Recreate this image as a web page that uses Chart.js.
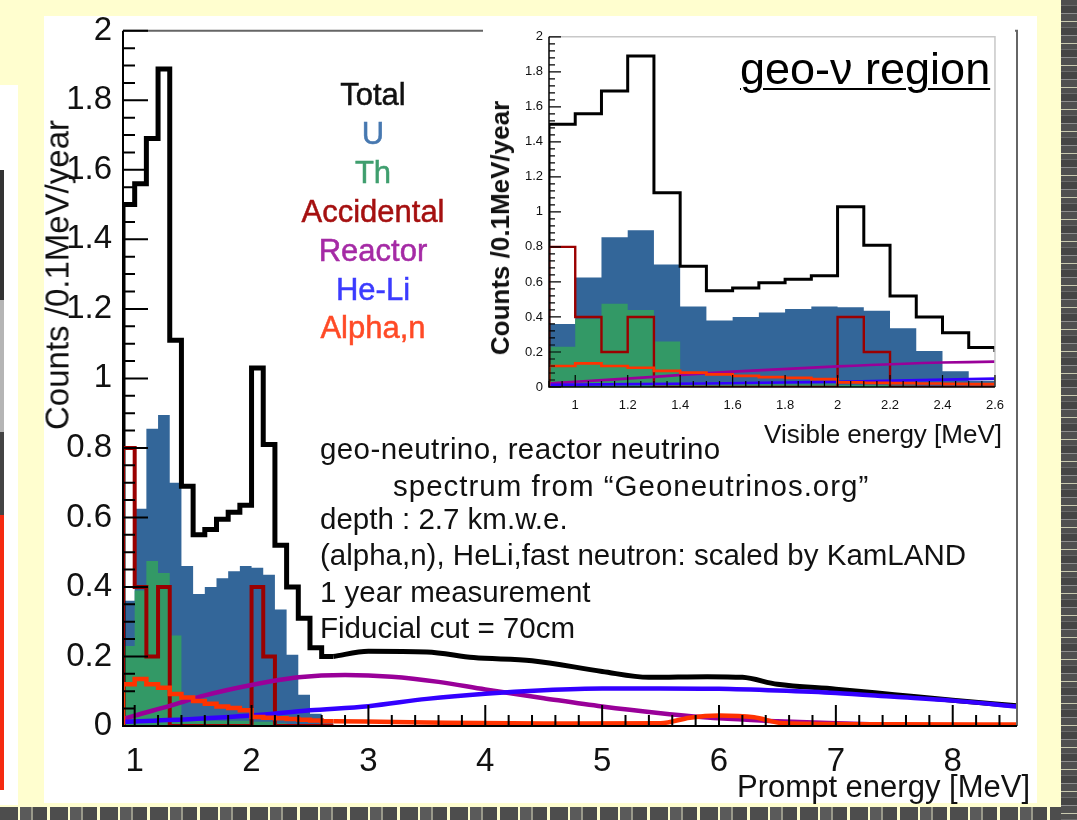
<!DOCTYPE html>
<html>
<head>
<meta charset="utf-8">
<script src="https://cdn.jsdelivr.net/npm/chart.js@4.4.0/dist/chart.umd.min.js"></script>
<style>
  html, body { margin: 0; padding: 0; }
  body { width: 1077px; height: 820px; position: relative; overflow: hidden; background: #fffecf;
         font-family: "Liberation Sans", Arial, Helvetica, sans-serif; }
  .abs { position: absolute; }
  #paper { left: 44px; top: 16px; width: 993px; height: 787px; background: #fff; }
  #side { left: 0; top: 85px; width: 18px; height: 720px; background: #fff; }
  #sidebar { left: 0; top: 170px; width: 4px; height: 620px;
             background: linear-gradient(#333 0 130px, #b5b5b5 130px 262px, #444 262px 345px, #f52a10 345px); }
  #rightEdge { left: 1061px; top: 0; width: 16px; height: 820px;
               background: repeating-linear-gradient(180deg, #4f4f4f 0 5px, #6a6a6a 5px 6px, #454545 6px 13px, #8d8d8d 13px 14px, #505050 14px 21px, #c9c9b0 21px 22px); }
  #bottomEdge { left: 0; top: 807px; width: 1061px; height: 13px;
                background: repeating-linear-gradient(90deg, #4d4d4d 0 18px, #fffecf 18px 20px, #5a5a5a 20px 31px, #9a9a8a 31px 33px, #4a4a4a 33px 47px, #fffecf 47px 50px); }
  #main { left: 0; top: 0; }
  #inset { left: 483px; top: 23px; background: #fff; }
  .txt { position: absolute; white-space: nowrap; line-height: 1; }
  .leg { font-size: 31px; transform: translateX(-50%); left: 373px; -webkit-text-stroke: 0.5px currentColor; }
  .note { font-size: 29.5px; color: #111; }
</style>
</head>
<body>
<div id="paper" class="abs"></div>
<div id="side" class="abs"></div>
<div id="sidebar" class="abs"></div>
<div id="rightEdge" class="abs"></div>
<div id="bottomEdge" class="abs"></div>
<canvas id="main" class="abs" width="1077" height="820"></canvas>
<canvas id="inset" class="abs" width="532" height="427"></canvas>

<div class="txt leg" style="top:79px;color:#111">Total</div>
<div class="txt leg" style="top:118px;color:#4778b0">U</div>
<div class="txt leg" style="top:157px;color:#3f9e6e">Th</div>
<div class="txt leg" style="top:196px;color:#a51010">Accidental</div>
<div class="txt leg" style="top:235px;color:#a52aa5">Reactor</div>
<div class="txt leg" style="top:274px;color:#3b3bff">He-Li</div>
<div class="txt leg" style="top:312px;color:#ff4a26">Alpha,n</div>

<div class="txt note" style="left:320px;top:434px;letter-spacing:0.4px">geo-neutrino, reactor neutrino</div>
<div class="txt note" style="left:393px;top:471px;letter-spacing:1px">spectrum from “Geoneutrinos.org”</div>
<div class="txt note" style="left:320px;top:504px">depth : 2.7 km.w.e.</div>
<div class="txt note" style="left:320px;top:540px">(alpha,n), HeLi,fast neutron: scaled by KamLAND</div>
<div class="txt note" style="left:320px;top:577px">1 year measurement</div>
<div class="txt note" style="left:320px;top:613px">Fiducial cut = 70cm</div>

<div class="txt" style="right:47px;top:771px;font-size:31px;color:#111">Prompt energy [MeV]</div>
<div class="txt" style="left:57px;top:275px;font-size:33px;color:#111;transform:translate(-50%,-50%) rotate(-90deg)">Counts /0.1MeV/year</div>

<div class="txt" style="left:740px;top:46px;font-size:45px;color:#000;text-decoration:underline;text-decoration-thickness:2px;text-underline-offset:4px">geo-ν region</div>
<div class="txt" style="right:75px;top:421px;font-size:26px;color:#111">Visible energy [MeV]</div>
<div class="txt" style="left:500px;top:228px;font-size:26px;font-weight:bold;color:#111;transform:translate(-50%,-50%) rotate(-90deg)">Counts /0.1MeV/year</div>

<script>
const FONT = '"Liberation Sans", Arial, Helvetica, sans-serif';
const BIN_LO = 0.9, BIN_W = 0.1;

// 0.1 MeV bins from 0.9 to 2.7 MeV
const totalHist = [1.50, 1.56, 1.69, 1.89, 1.11, 0.69, 0.55, 0.565, 0.595, 0.615, 0.635, 1.03, 0.81, 0.52, 0.40, 0.31, 0.225, 0.20];
const uHist     = [0.36, 0.625, 0.855, 0.895, 0.70, 0.46, 0.38, 0.40, 0.425, 0.445, 0.46, 0.455, 0.435, 0.335, 0.205, 0.09, 0.035, 0.01];
const thHist    = [0.23, 0.39, 0.475, 0.44, 0.26, 0.02, 0.015, 0.015, 0.015, 0.015, 0.015, 0.012, 0.012, 0.008, 0.005, 0.003, 0, 0];
const accHist   = [0.8, 0.4, 0.2, 0.4, 0, 0, 0, 0, 0, 0, 0, 0.4, 0.2, 0, 0, 0, 0, 0];
const alphaHist = [0.12, 0.135, 0.12, 0.11, 0.092, 0.082, 0.072, 0.064, 0.056, 0.052, 0.045, 0.026, 0.024, 0.022, 0.02, 0.018, 0.016, 0.014];

// smooth parts (energy MeV, counts)
const totalTailE = [2.7, 3.0, 3.5, 3.9, 4.4, 5.0, 5.4, 5.9, 6.2, 6.5, 7.0, 7.5, 8.0, 8.55];
const totalTail  = [0.20, 0.215, 0.213, 0.197, 0.188, 0.157, 0.14, 0.142, 0.14, 0.12, 0.106, 0.09, 0.074, 0.058];
const alphaTailE = [2.7, 3.5, 4.5, 5.5, 5.75, 6.0, 6.3, 6.55, 7.5, 8.55];
const alphaTail  = [0.014, 0.01, 0.007, 0.008, 0.024, 0.03, 0.025, 0.008, 0.005, 0.004];
const reactorE   = [0.9, 1.0, 1.3, 1.6, 2.0, 2.4, 2.8, 3.2, 3.6, 4.0, 4.5, 5.0, 5.5, 6.0, 6.5, 7.0, 7.5, 8.0, 8.55];
const reactorVal = [0.02, 0.03, 0.058, 0.088, 0.118, 0.14, 0.147, 0.142, 0.127, 0.105, 0.08, 0.056, 0.037, 0.022, 0.014, 0.008, 0.003, 0.001, 0];
const heliE      = [0.9, 1.5, 2.0, 2.5, 3.0, 3.5, 4.0, 4.5, 5.0, 5.5, 6.0, 6.5, 7.0, 7.5, 8.0, 8.55];
const heliVal    = [0.012, 0.02, 0.03, 0.045, 0.057, 0.078, 0.093, 0.103, 0.108, 0.108, 0.107, 0.102, 0.095, 0.084, 0.073, 0.056];

// tick labels
const xTicksMain  = [1, 2, 3, 4, 5, 6, 7, 8];
const xTicksInset = [1, 1.2, 1.4, 1.6, 1.8, 2, 2.2, 2.4, 2.6];
const yTicks      = [0, 0.2, 0.4, 0.6, 0.8, 1, 1.2, 1.4, 1.6, 1.8, 2];

const C = { total: '#000', u: '#336699', th: '#339966', acc: '#9a0000', reactor: '#990099', heli: '#3300ff', alpha: '#ff3300' };

function histPoints(vals, closeToZero) {
  const pts = [{ x: BIN_LO, y: 0 }];
  vals.forEach((v, i) => pts.push({ x: +(BIN_LO + i * BIN_W).toFixed(2), y: v }));
  const end = +(BIN_LO + vals.length * BIN_W).toFixed(2);
  pts.push({ x: end, y: vals[vals.length - 1] });
  if (closeToZero) pts.push({ x: end, y: 0 });
  return pts;
}
const curve = (es, vs) => es.map((x, i) => ({ x, y: vs[i] }));

function makeDatasets(k) {
  const smooth = { cubicInterpolationMode: 'monotone' };
  return [
    { data: histPoints(alphaHist), stepped: 'before', borderColor: C.alpha, borderWidth: 4.5 * k, order: 0 },
    { data: curve(alphaTailE, alphaTail), ...smooth, borderColor: C.alpha, borderWidth: 4.5 * k, order: 0 },
    { data: curve(heliE, heliVal), ...smooth, borderColor: C.heli, borderWidth: 4.5 * k, order: 1 },
    { data: curve(reactorE, reactorVal), ...smooth, borderColor: C.reactor, borderWidth: 4.5 * k, order: 2 },
    { data: histPoints(accHist), stepped: 'before', borderColor: C.acc, borderWidth: 4 * k, order: 3 },
    { data: histPoints(totalHist), stepped: 'before', borderColor: C.total, borderWidth: 5 * k, order: 4 },
    { data: curve(totalTailE, totalTail), ...smooth, borderColor: C.total, borderWidth: 5 * k, order: 4 },
    { data: histPoints(thHist, true), stepped: 'before', borderWidth: 0, borderColor: C.th, backgroundColor: C.th, fill: 'origin', order: 5 },
    { data: histPoints(uHist, true), stepped: 'before', borderWidth: 0, borderColor: C.u, backgroundColor: C.u, fill: 'origin', order: 6 },
  ];
}

// ROOT-style frame with inward ticks
const rootFrame = {
  id: 'rootFrame',
  afterDatasetsDraw(chart, args, o) {
    const { ctx, chartArea: a, scales: { x, y } } = chart;
    ctx.save();
    ctx.strokeStyle = o.frameColor; ctx.lineWidth = o.frameWidth;
    ctx.beginPath(); ctx.moveTo(a.left, a.top); ctx.lineTo(a.right, a.top); ctx.lineTo(a.right, a.bottom); ctx.stroke();
    ctx.strokeStyle = '#000'; ctx.lineWidth = o.axisWidth;
    ctx.beginPath(); ctx.moveTo(a.left, a.top); ctx.lineTo(a.left, a.bottom); ctx.lineTo(a.right, a.bottom); ctx.stroke();
    ctx.lineWidth = o.tickWidth;
    ctx.beginPath();
    const isMajor = (v, m) => Math.abs(v / m - Math.round(v / m)) < 1e-6;
    for (let i = Math.ceil(x.min / o.xMinor - 1e-6); i * o.xMinor <= x.max + 1e-9; i++) {
      const v = i * o.xMinor, px = x.getPixelForValue(v);
      const len = isMajor(v, o.xMajor) ? o.xMajorLen : o.xMinorLen;
      ctx.moveTo(px, a.bottom); ctx.lineTo(px, a.bottom - len);
    }
    for (let i = Math.ceil(y.min / o.yMinor - 1e-6); i * o.yMinor <= y.max + 1e-9; i++) {
      const v = i * o.yMinor, py = y.getPixelForValue(v);
      const len = isMajor(v, o.yMajor) ? o.yMajorLen : o.yMinorLen;
      ctx.moveTo(a.left, py); ctx.lineTo(a.left + len, py);
    }
    ctx.stroke();
    ctx.restore();
  }
};

function makeOptions(cfg) {
  return {
    responsive: false, animation: false, devicePixelRatio: 1,
    layout: { padding: cfg.padding },
    elements: { point: { radius: 0 }, line: { fill: false } },
    plugins: { legend: { display: false }, tooltip: { enabled: false }, rootFrame: cfg.frame },
    scales: {
      x: {
        type: 'linear', min: 0.9, max: cfg.xMax,
        grid: { display: false, drawTicks: false }, border: { display: false },
        afterBuildTicks: s => { s.ticks = cfg.xTicks.map(v => ({ value: v })); },
        afterFit: s => { s.height = cfg.xHeight; },
        ticks: { font: { size: cfg.tickSize, family: FONT }, color: '#111', padding: cfg.xPad, maxRotation: 0, autoSkip: false,
                 callback: v => String(+v.toFixed(1)) }
      },
      y: {
        type: 'linear', min: 0, max: 2,
        grid: { display: false, drawTicks: false }, border: { display: false },
        afterBuildTicks: s => { s.ticks = yTicks.map(v => ({ value: v })); },
        afterFit: s => { s.width = cfg.yWidth; },
        ticks: { font: { size: cfg.tickSize, family: FONT }, color: '#111', padding: cfg.yPad, autoSkip: false,
                 callback: v => String(+v.toFixed(1)) }
      }
    }
  };
}

new Chart(document.getElementById('main'), {
  type: 'line',
  data: { datasets: makeDatasets(1) },
  options: makeOptions({
    padding: { left: 40, top: 22, right: 60, bottom: 20 }, xMax: 8.55, xTicks: xTicksMain,
    xHeight: 74, yWidth: 83, tickSize: 33, xPad: 16, yPad: 11,
    frame: { frameColor: '#666', frameWidth: 2, axisWidth: 2, tickWidth: 2,
             xMinor: 0.2, xMajor: 1, xMinorLen: 11, xMajorLen: 21,
             yMinor: 0.05, yMajor: 0.2, yMinorLen: 12, yMajorLen: 25 }
  }),
  plugins: [rootFrame]
});

new Chart(document.getElementById('inset'), {
  type: 'line',
  data: { datasets: makeDatasets(0.6) },
  options: makeOptions({
    padding: { left: 20, top: 8, right: 13, bottom: 33 }, xMax: 2.6, xTicks: xTicksInset,
    xHeight: 30, yWidth: 46, tickSize: 13, xPad: 11, yPad: 6,
    frame: { frameColor: '#c8c8c8', frameWidth: 1.5, axisWidth: 1.5, tickWidth: 1.2,
             xMinor: 0.05, xMajor: 0.2, xMinorLen: 6, xMajorLen: 12,
             yMinor: 0.04, yMajor: 0.2, yMinorLen: 6, yMajorLen: 12 }
  }),
  plugins: [rootFrame]
});
</script>
</body>
</html>
